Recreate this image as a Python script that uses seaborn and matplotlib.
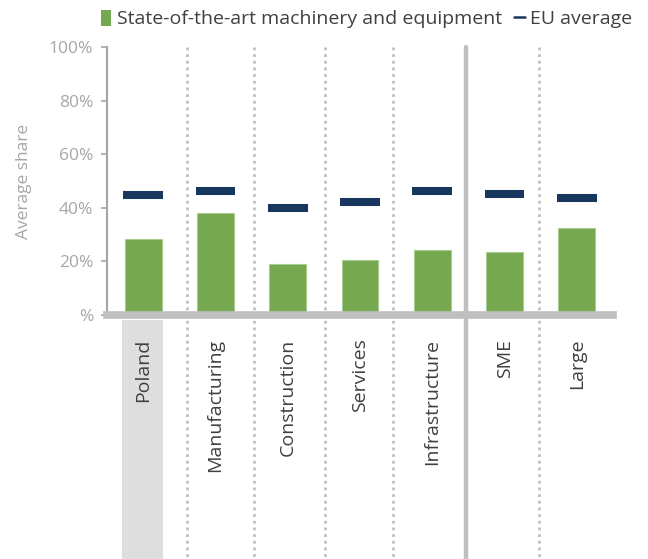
import numpy as np
import pandas as pd
import matplotlib
matplotlib.use('Agg')
import matplotlib.pyplot as plt
import seaborn as sns
from matplotlib.patches import Patch, Rectangle
from matplotlib.lines import Line2D
import matplotlib.transforms as mtransforms

# data
categories = ['Poland', 'Manufacturing', 'Construction', 'Services', 'Infrastructure', 'SME', 'Large']
machinery = [28.3, 38.1, 19.0, 20.5, 24.2, 23.5, 32.5]
eu_average = [44.6, 46.4, 40.1, 42.3, 46.1, 45.3, 43.8]
y_ticks = [0, 20, 40, 60, 80, 100]
y_tick_labels = ['%', '20%', '40%', '60%', '80%', '100%']

green = '#75A84F'
navy = '#17375E'
grey_line = '#BFBFBF'
grey_text = '#A6A6A6'
dark_text = '#404040'

sns.set_style('white')
plt.rcParams['font.family'] = ['Open Sans', 'DejaVu Sans']

df = pd.DataFrame({'category': categories, 'machinery': machinery, 'eu': eu_average})

fig = plt.figure(figsize=(6.48, 5.59), dpi=100)
# axes box in pixels: x 107..613, y 47..315 (from top)
ax = fig.add_axes([107 / 648, 1 - 315 / 559, (613 - 107) / 648, (315 - 47) / 559])

sns.barplot(data=df, x='category', y='machinery', color=green, width=0.51,
            edgecolor='#A9CC8F', linewidth=0.8, saturation=1, ax=ax, zorder=3)

xpos = np.arange(len(categories))
eu_lines = ax.hlines(df['eu'], xpos - 0.275, xpos + 0.275, colors=navy, linewidth=5.8, zorder=4)
eu_lines.set_capstyle('butt')

ax.set_xlim(-0.5, len(categories) - 0.5)
ax.set_ylim(0, 100)
ax.set_yticks(y_ticks)
ax.set_yticklabels(y_tick_labels, color=grey_text, fontsize=12.5)
ax.tick_params(axis='y', which='both', left=True, length=4, width=1.2, color=grey_text, pad=6)
ax.set_ylabel('Average share', color=grey_text, fontsize=12.5, labelpad=12)
ax.set_xlabel('')

ax.set_xticks(xpos)
ax.set_xticklabels(categories, rotation=90, color=dark_text, fontsize=14, va='top')
ax.tick_params(axis='x', length=0, pad=17)

for s in ['top', 'right']:
    ax.spines[s].set_visible(False)
ax.spines['left'].set_color(grey_text)
ax.spines['left'].set_linewidth(1.5)
ax.spines['bottom'].set_color(grey_line)
ax.spines['bottom'].set_linewidth(5.5)
ax.spines['bottom'].set_zorder(5)

# separators running from the top of the plot to the bottom of the figure
trans = mtransforms.blended_transform_factory(ax.transData, ax.transAxes)
y_bottom = -244 / 268
dotted_at = [0.6, 1.54, 2.52, 3.46, 5.47]
for xd in dotted_at:
    ax.add_line(Line2D([xd, xd], [1.0, y_bottom], transform=trans, color=grey_line,
                       linestyle=(0, (1, 1.4)), linewidth=2, clip_on=False, zorder=1))
ax.add_line(Line2D([4.47, 4.47], [1.0, y_bottom], transform=trans, color=grey_line,
                   linewidth=3.2, clip_on=False, zorder=1))

# grey box behind the Poland label
ax.add_patch(Rectangle((-0.29, y_bottom), 0.57, -0.02 - y_bottom, transform=trans,
                       facecolor='#DEDEDE', edgecolor='none', clip_on=False, zorder=0))

handles = [Patch(facecolor=green, edgecolor='none', label='State-of-the-art machinery and equipment'),
           Line2D([0], [0], color=navy, linewidth=1.8, label='EU average')]
fig.legend(handles=handles, loc='upper right', bbox_to_anchor=(650 / 648, 1.014), ncol=2,
           frameon=False, fontsize=14, labelcolor=dark_text, handlelength=0.55,
           handleheight=0.9, handletextpad=0.3, columnspacing=0.6)

plt.savefig('out.png', dpi=100)
